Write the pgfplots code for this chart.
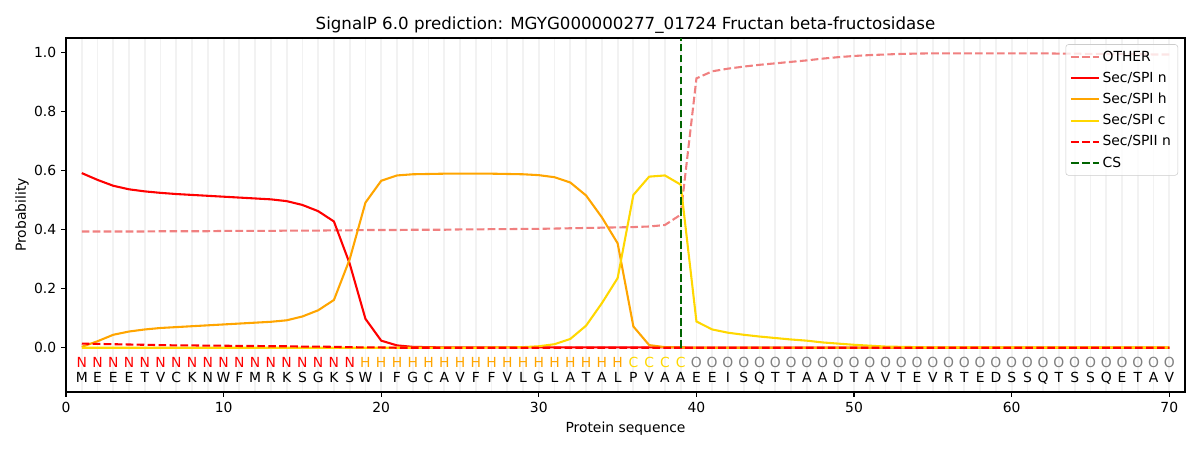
\documentclass[border=0pt]{standalone}
\usepackage{fontspec}
\setmainfont{DejaVu Sans}
\usepackage{pgfplots}
\usepackage{pgfplotstable}
\pgfplotsset{compat=1.18}
\definecolor{lcoral}{HTML}{F08080}
\definecolor{orng}{HTML}{FFA500}
\definecolor{gld}{HTML}{FFD700}
\definecolor{dgreen}{HTML}{006400}
\definecolor{ogrey}{HTML}{808080}
\definecolor{gridc}{HTML}{F2F2F2}
\definecolor{legc}{HTML}{CCCCCC}

\pgfplotstableread{
x other n h c ii
1 0.394 0.592 0.003 0.000 0.014
2 0.394 0.569 0.022 0.000 0.013
3 0.394 0.549 0.044 0.000 0.012
4 0.394 0.537 0.055 0.000 0.011
5 0.394 0.530 0.062 0.000 0.010
6 0.395 0.525 0.067 0.000 0.009
7 0.395 0.521 0.070 0.000 0.008
8 0.395 0.518 0.073 0.000 0.008
9 0.395 0.515 0.076 0.000 0.007
10 0.396 0.512 0.079 0.000 0.007
11 0.396 0.509 0.082 0.000 0.006
12 0.396 0.506 0.085 0.000 0.006
13 0.396 0.503 0.088 0.000 0.005
14 0.397 0.497 0.093 0.000 0.005
15 0.397 0.484 0.106 0.000 0.004
16 0.397 0.463 0.127 0.000 0.004
17 0.398 0.428 0.162 0.000 0.003
18 0.398 0.285 0.300 0.000 0.002
19 0.399 0.098 0.492 0.000 0.001
20 0.399 0.024 0.566 0.000 0.001
21 0.399 0.008 0.584 0.000 0.000
22 0.400 0.003 0.588 0.000 0.000
23 0.400 0.002 0.589 0.000 0.000
24 0.400 0.001 0.590 0.000 0.000
25 0.401 0.001 0.590 0.000 0.000
26 0.401 0.001 0.590 0.000 0.000
27 0.402 0.001 0.590 0.001 0.000
28 0.402 0.001 0.589 0.001 0.000
29 0.403 0.001 0.588 0.002 0.000
30 0.403 0.001 0.585 0.005 0.000
31 0.404 0.001 0.578 0.012 0.000
32 0.405 0.001 0.560 0.030 0.000
33 0.406 0.001 0.516 0.075 0.000
34 0.407 0.001 0.442 0.151 0.000
35 0.408 0.001 0.354 0.236 0.000
36 0.409 0.001 0.072 0.518 0.000
37 0.411 0.001 0.009 0.580 0.000
38 0.416 0.001 0.002 0.584 0.000
39 0.451 0.001 0.001 0.553 0.000
40 0.913 0.000 0.000 0.089 0.000
41 0.937 0.000 0.000 0.062 0.000
42 0.946 0.000 0.000 0.051 0.000
43 0.953 0.000 0.000 0.044 0.000
44 0.959 0.000 0.000 0.038 0.000
45 0.964 0.000 0.000 0.033 0.000
46 0.969 0.000 0.000 0.028 0.000
47 0.974 0.000 0.000 0.024 0.000
48 0.980 0.000 0.000 0.018 0.000
49 0.985 0.000 0.000 0.014 0.000
50 0.989 0.000 0.000 0.010 0.000
51 0.992 0.000 0.000 0.007 0.000
52 0.994 0.000 0.000 0.004 0.000
53 0.996 0.000 0.000 0.003 0.000
54 0.997 0.000 0.000 0.002 0.000
55 0.998 0.000 0.000 0.001 0.000
56 0.998 0.000 0.000 0.001 0.000
57 0.998 0.000 0.000 0.001 0.000
58 0.998 0.000 0.000 0.001 0.000
59 0.998 0.000 0.000 0.001 0.000
60 0.998 0.000 0.000 0.001 0.000
61 0.998 0.000 0.000 0.001 0.000
62 0.998 0.000 0.000 0.001 0.000
63 0.997 0.000 0.000 0.001 0.000
64 0.997 0.000 0.000 0.001 0.000
65 0.996 0.000 0.000 0.001 0.000
66 0.996 0.000 0.000 0.001 0.000
67 0.995 0.000 0.000 0.001 0.000
68 0.995 0.000 0.000 0.001 0.000
69 0.994 0.000 0.000 0.001 0.000
70 0.994 0.000 0.000 0.001 0.000
}\probs

\pgfplotstableread{
x r g
1 M N
2 E N
3 E N
4 E N
5 T N
6 V N
7 C N
8 K N
9 N N
10 W N
11 F N
12 M N
13 R N
14 K N
15 S N
16 G N
17 K N
18 S N
19 W H
20 I H
21 F H
22 G H
23 C H
24 A H
25 V H
26 F H
27 F H
28 V H
29 L H
30 G H
31 L H
32 A H
33 T H
34 A H
35 L H
36 P C
37 V C
38 A C
39 A C
40 E O
41 E O
42 I O
43 S O
44 Q O
45 T O
46 T O
47 A O
48 A O
49 D O
50 T O
51 A O
52 V O
53 T O
54 E O
55 V O
56 R O
57 T O
58 E O
59 D O
60 S O
61 S O
62 Q O
63 T O
64 S O
65 S O
66 Q O
67 E O
68 T O
69 A O
70 V O
}\seq

\begin{document}
\begin{tikzpicture}
\begin{axis}[
  scale only axis,
  width=805.7pt, height=254.9pt,
  xmin=0, xmax=71, ymin=-0.15, ymax=1.05,
  xtick={0,10,...,70},
  ytick={0,0.2,...,1.0},
  yticklabel style={/pgf/number format/.cd, fixed, fixed zerofill, precision=1},
  /pgf/number format/assume math mode=true,
  minor xtick={1,...,70},
  xminorgrids=true,
  minor grid style={gridc, line width=1.3pt},
  minor tick length=0pt,
  tick align=outside,
  major tick length=3.5pt,
  tick pos=left,
  every tick/.style={black, line width=0.8pt},
  axis line style={line width=0.8pt},
  tick label style={font=\fontsize{10}{12}\selectfont},
  label style={font=\fontsize{10}{12}\selectfont},
  xlabel={Protein sequence},
  ylabel={Probability},
  ylabel shift=-3pt,
  title={SignalP 6.0 prediction: MGYG000000277\_01724 Fructan beta-fructosidase},
  title style={font=\fontsize{12}{14}\selectfont, yshift=-6pt},
  legend cell align=left,
  legend style={at={(1,1)}, anchor=north east, xshift=-5pt, yshift=-4.5pt,
    draw=legc, rounded corners=2pt, fill=white, fill opacity=0.8, text opacity=1,
    font=\fontsize{10}{12}\selectfont, inner xsep=3pt, inner ysep=2.5pt, row sep=2.3pt},
  legend image code/.code={\draw[#1] (0pt,0pt) -- (20pt,0pt);},
  every axis plot/.append style={line width=1.5pt},
  lab/.style={draw=none, forget plot, nodes near coords, point meta=explicit symbolic,
    nodes near coords style={font=\fontsize{10}{12}\selectfont, anchor=base, inner sep=0pt, text=#1}},
]
\addplot[lcoral, dash pattern=on 5.5pt off 2.4pt] table[x=x,y=other] {\probs};
\addlegendentry{OTHER}
\addplot[red] table[x=x,y=n] {\probs};
\addlegendentry{Sec/SPI n}
\addplot[orng] table[x=x,y=h] {\probs};
\addlegendentry{Sec/SPI h}
\addplot[gld] table[x=x,y=c] {\probs};
\addlegendentry{Sec/SPI c}
\addplot[red, dash pattern=on 5.5pt off 2.4pt] table[x=x,y=ii] {\probs};
\addlegendentry{Sec/SPII n}
\addplot[dgreen, dash pattern=on 5.5pt off 2.4pt] coordinates {(39,0) (39,1.05)};
\addlegendentry{CS}

\addplot[lab=red, restrict x to domain=1:18] table[x=x, y expr=-0.066, meta=g] {\seq};
\addplot[lab=orng, restrict x to domain=19:35] table[x=x, y expr=-0.066, meta=g] {\seq};
\addplot[lab=gld, restrict x to domain=36:39] table[x=x, y expr=-0.066, meta=g] {\seq};
\addplot[lab=ogrey, restrict x to domain=40:70] table[x=x, y expr=-0.066, meta=g] {\seq};
\addplot[lab=black] table[x=x, y expr=-0.117, meta=r] {\seq};
\end{axis}
\pgfresetboundingbox
\path (current axis.south west) ++(-47.52pt,-41.76pt) rectangle ++(864pt,324pt);
\end{tikzpicture}
\end{document}
